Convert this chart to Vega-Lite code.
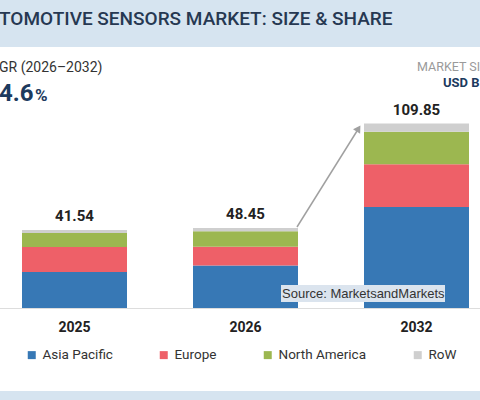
{
  "$schema": "https://vega.github.io/schema/vega-lite/v6.json",
  "width": 480,
  "height": 400,
  "autosize": {"type": "none"},
  "padding": 0,
  "background": "white",
  "config": {"view": {"stroke": null}, "font": "Roboto"},
  "datasets": {
    "market": [
      {"year": "2025", "region": "Asia Pacific", "value": 21.5, "total": 41.54},
      {"year": "2025", "region": "Europe", "value": 14.9, "total": 41.54},
      {"year": "2025", "region": "North America", "value": 8.3, "total": 41.54},
      {"year": "2025", "region": "RoW", "value": 1.8, "total": 41.54},
      {"year": "2026", "region": "Asia Pacific", "value": 25.4, "total": 48.45},
      {"year": "2026", "region": "Europe", "value": 11.1, "total": 48.45},
      {"year": "2026", "region": "North America", "value": 9.2, "total": 48.45},
      {"year": "2026", "region": "RoW", "value": 2.0, "total": 48.45},
      {"year": "2032", "region": "Asia Pacific", "value": 60.2, "total": 109.85},
      {"year": "2032", "region": "Europe", "value": 25.4, "total": 109.85},
      {"year": "2032", "region": "North America", "value": 19.5, "total": 109.85},
      {"year": "2032", "region": "RoW", "value": 4.8, "total": 109.85}
    ]
  },
  "layer": [
    {
      "data": {"values": [{}]},
      "mark": {"type": "rect", "fill": "#d6e4f0", "x": 0, "x2": 480, "y": 0, "y2": 47}
    },
    {
      "data": {"values": [{}]},
      "mark": {"type": "rect", "fill": "#d6e4f0", "x": 0, "x2": 480, "y": 391, "y2": 400}
    },
    {
      "data": {"values": [{}]},
      "mark": {"type": "text", "text": "TOMOTIVE SENSORS MARKET: SIZE & SHARE", "x": -1, "y": 19, "align": "left", "baseline": "middle", "fontSize": 19, "fontWeight": 500, "color": "#263852"}
    },
    {
      "data": {"values": [{}]},
      "mark": {"type": "text", "text": "GR (2026–2032)", "x": -1, "y": 68, "align": "left", "baseline": "middle", "fontSize": 14, "color": "#333333"}
    },
    {
      "data": {"values": [{}]},
      "mark": {"type": "text", "text": "4.6", "x": -1, "y": 101, "align": "left", "baseline": "alphabetic", "fontSize": 24, "fontWeight": "bold", "color": "#1c3a5e"}
    },
    {
      "data": {"values": [{}]},
      "mark": {"type": "text", "text": "%", "x": 35, "y": 101, "align": "left", "baseline": "alphabetic", "fontSize": 17, "fontWeight": "bold", "color": "#1c3a5e"}
    },
    {
      "data": {"values": [{}]},
      "mark": {"type": "text", "text": "MARKET SI", "x": 417, "y": 67, "align": "left", "baseline": "middle", "fontSize": 12.5, "color": "#9a9a9a"}
    },
    {
      "data": {"values": [{}]},
      "mark": {"type": "text", "text": "USD B", "x": 443, "y": 83, "align": "left", "baseline": "middle", "fontSize": 13, "fontWeight": "bold", "color": "#1c3a5e"}
    },
    {
      "data": {"name": "market"},
      "mark": {"type": "bar"},
      "encoding": {
        "x": {
          "field": "year", "type": "nominal",
          "scale": {"type": "band", "range": [-11, 502], "paddingInner": 0.386, "paddingOuter": 0.193},
          "axis": {"title": null, "labelAngle": 0, "labelFontWeight": "bold", "labelFontSize": 14, "labelColor": "#222222", "ticks": false, "domainColor": "#dddddd", "domainWidth": 1, "labelPadding": 12, "grid": false, "offset": -92}
        },
        "y": {
          "field": "value", "type": "quantitative", "aggregate": "sum",
          "scale": {"domain": [0, 183.55], "range": [308, 0], "nice": false, "zero": true},
          "axis": null
        },
        "color": {
          "field": "region", "type": "nominal",
          "scale": {"domain": ["Asia Pacific", "Europe", "North America", "RoW"], "range": ["#3778b5", "#ee6068", "#9cb750", "#cfcfcf"]},
          "legend": {"orient": "none", "legendX": 25, "legendY": 348, "direction": "horizontal", "title": null, "symbolType": "square", "symbolSize": 64, "symbolStrokeWidth": 0, "labelFontSize": 13.5, "labelColor": "#333333", "columnPadding": 44, "labelOffset": 4}
        },
        "order": {"field": "region", "sort": "ascending"}
      }
    },
    {
      "data": {"name": "market"},
      "mark": {"type": "text", "fontSize": 15, "fontWeight": "bold", "color": "#222222", "dy": -14, "baseline": "middle"},
      "encoding": {
        "x": {"field": "year", "type": "nominal"},
        "y": {"field": "value", "type": "quantitative", "aggregate": "sum"},
        "text": {"field": "total", "type": "quantitative", "aggregate": "max", "format": ".2f"}
      }
    },
    {
      "data": {"values": [{}]},
      "mark": {"type": "rule", "color": "#a0a0a0", "strokeWidth": 1.5},
      "encoding": {"x": {"value": 297}, "y": {"value": 227}, "x2": {"value": 357}, "y2": {"value": 131}}
    },
    {
      "data": {"values": [{}]},
      "mark": {"type": "point", "shape": "triangle-up", "filled": true, "color": "#a0a0a0", "size": 70, "angle": 32, "opacity": 1},
      "encoding": {"x": {"value": 358.5}, "y": {"value": 128.5}}
    },
    {
      "data": {"values": [{}]},
      "mark": {"type": "rect", "fill": "#dbe4ee", "x": 281, "x2": 445, "y": 285, "y2": 302}
    },
    {
      "data": {"values": [{}]},
      "mark": {"type": "text", "text": "Source: MarketsandMarkets", "x": 282, "y": 293.5, "align": "left", "baseline": "middle", "fontSize": 13, "font": "Liberation Sans", "color": "#333333"}
    }
  ]
}
